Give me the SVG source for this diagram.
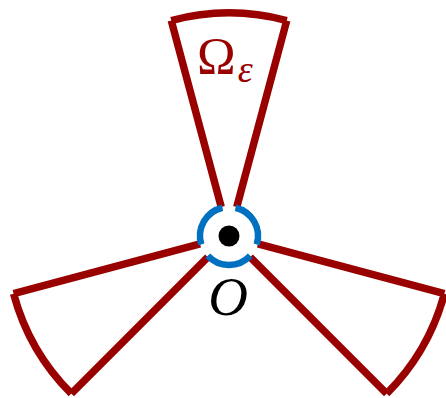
<svg xmlns="http://www.w3.org/2000/svg" width="446" height="398" viewBox="0 0 446 398">
<style>
.red{fill:none;stroke:#990000;stroke-width:7.5;stroke-linecap:butt}
.blue{fill:none;stroke:#0070C0;stroke-width:6.5;stroke-linecap:butt}
.lbl{font-family:"Liberation Serif","Times New Roman",serif;fill:#990000}
</style>
<rect width="446" height="398" fill="#ffffff"/>
<g id="wedge-top">
<path class="red" d="M221.24,207.02 L171.28,20.6 M236.76,207.02 L286.72,20.6 M171.28,20.6 A223,223 0 0 1 286.72,20.6"/>
</g>
<g id="wedge-right">
<path class="red" d="M257.98,243.76 L444.4,293.72 M250.21,257.21 L386.68,393.68 M444.4,293.72 A223,223 0 0 1 386.68,393.68"/>
</g>
<g id="wedge-left">
<path class="red" d="M200.02,243.76 L13.6,293.72 M207.79,257.21 L71.32,393.68 M71.32,393.68 A223,223 0 0 1 13.6,293.72"/>
</g>
<g id="origin">
<path class="blue" d="M235.52,207.74 A29,29 0 0 1 256.73,244.48 M250.21,255.78 A29,29 0 0 1 207.79,255.78 M201.27,244.48 A29,29 0 0 1 222.48,207.74"/>
<circle cx="229" cy="236" r="10.5" fill="#000000"/>
<text x="228" y="315" text-anchor="middle" font-family="Liberation Serif, serif" font-style="italic" font-size="55" fill="#000000">O</text>
</g>
<g id="label-omega">
<text class="lbl" x="197" y="74" font-size="52">Ω<tspan font-style="italic" font-size="38" dx="2" dy="8">ε</tspan></text>
</g>
</svg>
